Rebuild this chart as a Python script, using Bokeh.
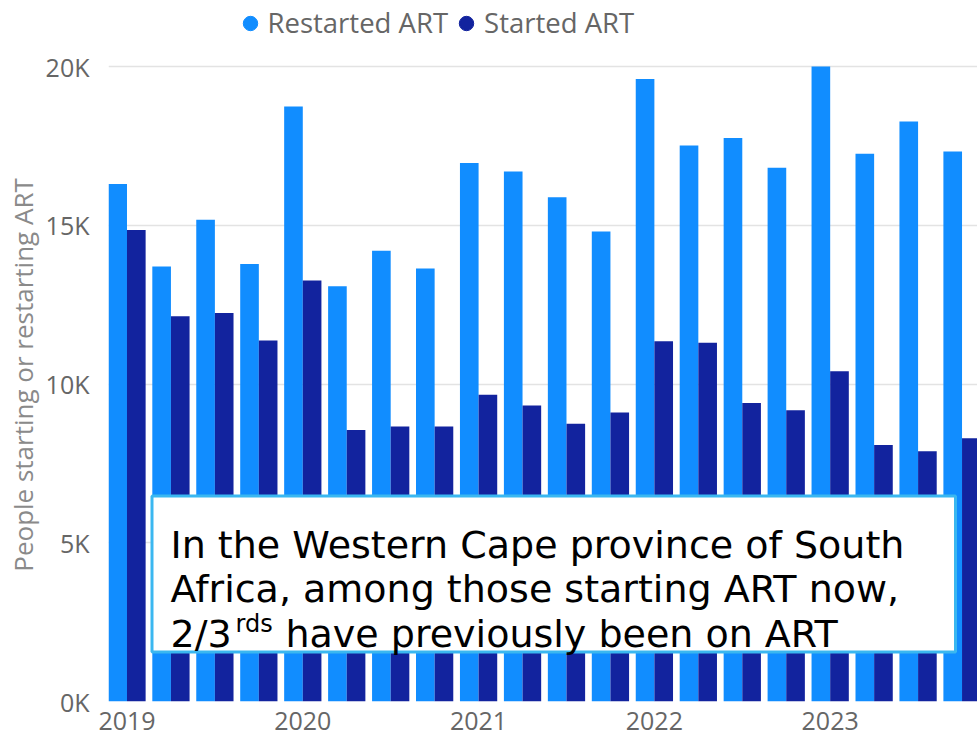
from bokeh.plotting import figure
from bokeh.layouts import column
from bokeh.models import (Legend, LegendItem, Label, BoxAnnotation,
                          FixedTicker, Range1d)
from bokeh.embed import file_html
from bokeh.resources import INLINE

# Quarterly ART initiations, Western Cape
quarters = ["2019 Q1", "2019 Q2", "2019 Q3", "2019 Q4",
            "2020 Q1", "2020 Q2", "2020 Q3", "2020 Q4",
            "2021 Q1", "2021 Q2", "2021 Q3", "2021 Q4",
            "2022 Q1", "2022 Q2", "2022 Q3", "2022 Q4",
            "2023 Q1", "2023 Q2", "2023 Q3", "2023 Q4"]
restarted = [16300, 13700, 15170, 13780,
             18740, 13080, 14200, 13640,
             16960, 16690, 15880, 14800,
             19610, 17510, 17750, 16810,
             20000, 17250, 18270, 17320]
started = [14850, 12130, 12240, 11370,
           13260, 8550, 8660, 8660,
           9660, 9320, 8750, 9100,
           11350, 11300, 9400, 9170,
           10400, 8080, 7880, 8290]
series_names = ["Restarted ART", "Started ART"]
year_ticks = [2019, 2020, 2021, 2022, 2023]
y_ticks = [0, 5000, 10000, 15000, 20000]
y_tick_labels = ["0K", "5K", "10K", "15K", "20K"]

LIGHT = "#118DFF"
DARK = "#12239E"
GREY = "#666666"
BAR_W = 0.106

# quarter start as a fractional year
t = [int(q[:4]) + (int(q[-1]) - 1) / 4 for q in quarters]

# ---- legend strip across the top (frame aligned with the chart below) ----
leg = figure(width=977, height=48, output_backend="svg", toolbar_location=None,
             x_range=Range1d(0, 1), y_range=Range1d(0, 1),
             x_axis_location=None, y_axis_location=None, min_border=0)
leg.outline_line_color = None
leg.grid.grid_line_color = None
nan = float("nan")
r_light = leg.scatter(x=[nan], y=[nan], marker="circle", size=14,
                      fill_color=LIGHT, line_color=LIGHT)
r_dark = leg.scatter(x=[nan], y=[nan], marker="circle", size=14,
                     fill_color=DARK, line_color=DARK)
legend = Legend(items=[LegendItem(label=series_names[0], renderers=[r_light]),
                       LegendItem(label=series_names[1], renderers=[r_dark])],
                orientation="horizontal", location=(123.5, 7),
                glyph_width=36, glyph_height=36,
                label_standoff=0, spacing=0, padding=0, margin=0,
                border_line_color=None, background_fill_alpha=0,
                label_text_font="Open Sans", label_text_font_size="27.5px",
                label_text_color=GREY, label_text_baseline="middle")
leg.add_layout(legend)

# ---- main bar chart ----
p = figure(width=977, height=692,
           x_range=Range1d(2018.8948, 2023.838),
           y_range=Range1d(0, 20567),
           output_backend="svg", toolbar_location=None,
           min_border_left=108, min_border_right=0,
           min_border_top=0, min_border_bottom=39)
p.outline_line_color = None
p.background_fill_color = "white"

p.vbar(x=[v - BAR_W / 2 for v in t], top=restarted, width=BAR_W,
       color=LIGHT, line_color=None)
p.vbar(x=[v + BAR_W / 2 for v in t], top=started, width=BAR_W,
       color=DARK, line_color=None)

p.yaxis.ticker = FixedTicker(ticks=y_ticks)
p.yaxis.major_label_overrides = dict(zip(y_ticks, y_tick_labels))
p.xaxis.ticker = FixedTicker(ticks=year_ticks)
p.xaxis.major_label_overrides = {y: str(y) for y in year_ticks}
for ax in (p.xaxis[0], p.yaxis[0]):
    ax.axis_line_color = None
    ax.major_tick_line_color = None
    ax.minor_tick_line_color = None
    ax.major_label_text_font = "Open Sans"
    ax.major_label_text_font_size = "25px"
    ax.major_label_text_color = GREY
p.yaxis.major_label_standoff = 13
p.xaxis.major_label_standoff = 4
p.yaxis.axis_label = "People starting or restarting ART"
p.yaxis.axis_label_text_font = "Open Sans"
p.yaxis.axis_label_text_font_size = "26px"
p.yaxis.axis_label_text_font_style = "normal"
p.yaxis.axis_label_text_color = "#8a8a8a"
p.yaxis.axis_label_standoff = 2

p.xgrid.grid_line_color = None
p.ygrid.ticker = FixedTicker(ticks=y_ticks[1:])
p.ygrid.grid_line_color = "#E3E3E3"
p.ygrid.grid_line_width = 1.5

# callout box
p.add_layout(BoxAnnotation(left=43.5, right=847, bottom=49.5, top=205.5,
                           left_units="screen", right_units="screen",
                           bottom_units="screen", top_units="screen",
                           fill_color="white", fill_alpha=1.0,
                           line_color="#3AB7F0", line_width=3, line_alpha=1.0))

note_font = "DejaVu Sans"
note_size = "38px"
for txt, xx, yy, size in [
        ("In the Western Cape province of South", 62, 157, note_size),
        ("Africa, among those starting ART now,", 62, 113, note_size),
        ("2/3", 62, 68, note_size),
        ("rds", 127, 78, "24px"),
        ("have previously been on ART", 177, 68, note_size)]:
    p.add_layout(Label(x=xx, y=yy, x_units="screen", y_units="screen",
                       text=txt, text_font=note_font, text_font_size=size,
                       text_color="#000000", text_baseline="alphabetic"))

layout = column(leg, p, spacing=0)
open("out.html", "w").write(file_html(layout, INLINE))
